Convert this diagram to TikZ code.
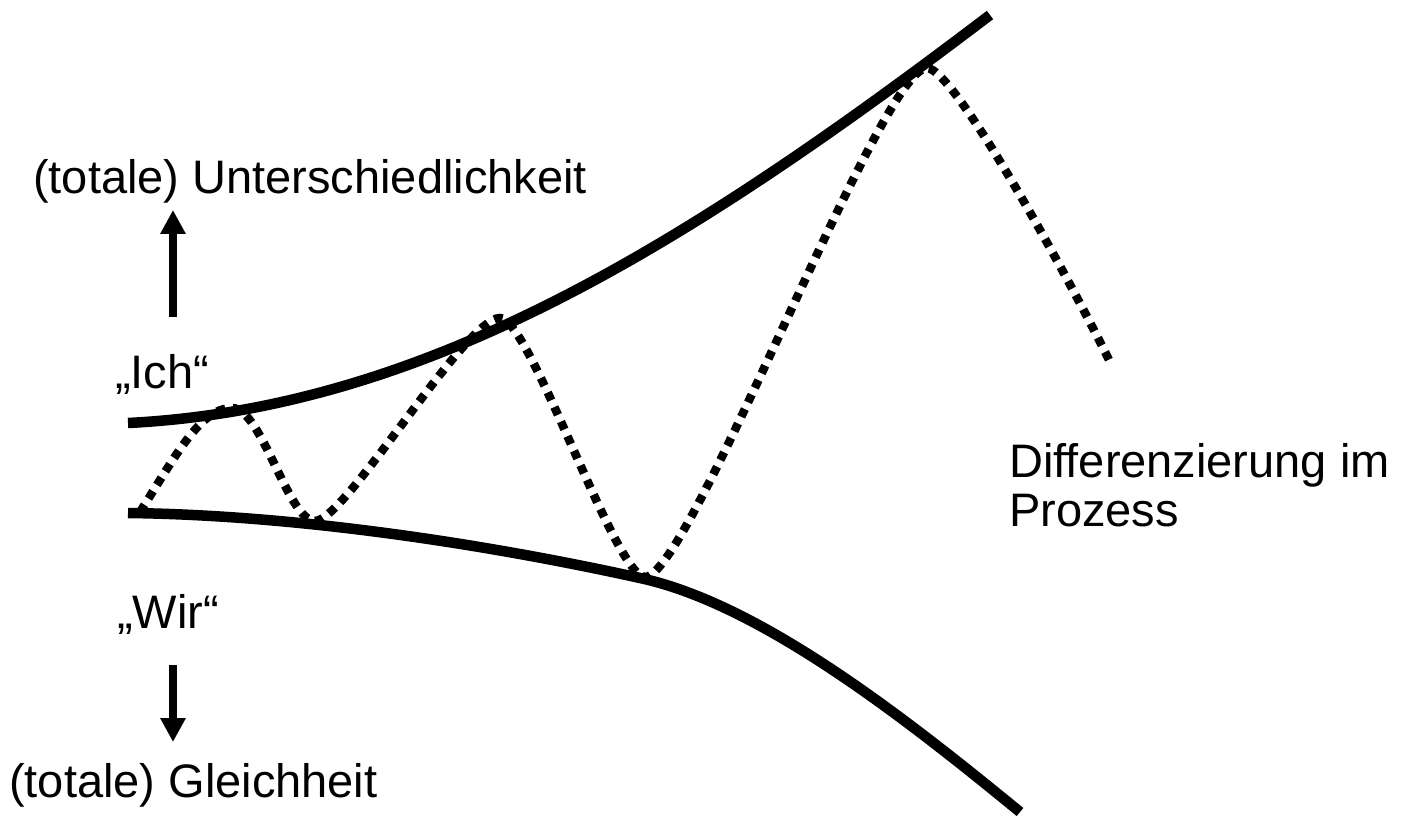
\documentclass[tikz,border=0pt]{standalone}
\usepackage{fontspec}
\setmainfont{Liberation Sans}
\usetikzlibrary{arrows.meta}
\begin{document}
\begin{tikzpicture}[x=1pt,y=-1pt,
  lbl/.style={font=\fontsize{47}{49}\selectfont, inner sep=0pt, anchor=base west, align=left},
  bound/.style={line width=10.5pt, line cap=butt},
  wave/.style={line width=8.5pt, line cap=butt, dash pattern=on 8.5pt off 7.5pt},
  dirarrow/.style={line width=7.5pt, -{Triangle[length=24pt,width=24pt]}}]
\useasboundingbox (0,0) rectangle (1404,818);

% labels
\node[lbl] (diff)  at (33,194)  {(totale) Unterschiedlichkeit};
\node[lbl] (ich)   at (115,388) {„Ich“};
\node[lbl] (wir)   at (117,628) {„Wir“};
\node[lbl] (same)  at (9,797)   {(totale) Gleichheit};
% a multi-line node sits on the baseline of its last line
\node[lbl] (proc)  at (1009,526) {Differenzierung im\\Prozess};

% direction arrows
\coordinate (upS) at (173,317);
\coordinate (upT) at (173,210);
\coordinate (dnS) at (173,665);
\coordinate (dnT) at (173,742);
\draw[dirarrow] (upS) -- (upT);
\draw[dirarrow] (dnS) -- (dnT);

% upper boundary ("Ich")
\draw[bound] (128,423) .. controls (428,408) and (690,243) .. (990,15);
% lower boundary ("Wir")
\draw[bound] (128,513) .. controls (300,515) and (490,545) .. (640,578)
                       .. controls (760,604) and (904,717) .. (1020,812);

% oscillating differentiation process
\draw[wave] (140,512)
  .. controls (175,457) and (200,408) .. (232,408)
  .. controls (262,408) and (288,521) .. (315,521)
  .. controls (345,521) and (465,318) .. (500,318)
  .. controls (530,318) and (615,577) .. (645,577)
  .. controls (690,577) and (880,68) .. (927,68)
  .. controls (955,68) and (1075,290) .. (1110,362);
\end{tikzpicture}
\end{document}
